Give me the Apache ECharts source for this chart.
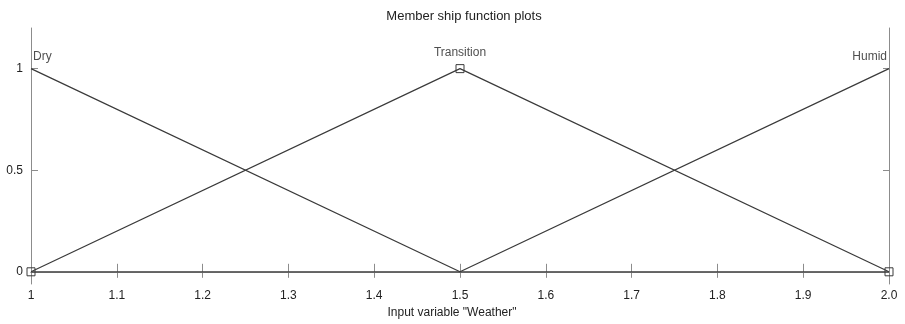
<!DOCTYPE html>
<html><head><meta charset="utf-8">
<script src="https://cdn.jsdelivr.net/npm/echarts@6/dist/echarts.min.js"></script>
<style>html,body{margin:0;padding:0;background:#fff}#c{width:905px;height:324px}</style>
</head><body><div id="c"></div>
<script>
const xTickLabels = ['1','1.1','1.2','1.3','1.4','1.5','1.6','1.7','1.8','1.9','2.0'];
const yTickValues = [0, 0.5, 1];
const xPoints = [1, 1.5, 2];
const dry = [1, 0, 0];
const transition = [0, 1, 0];
const humid = [0, 0, 1];
const mfNames = ['Dry', 'Transition', 'Humid'];
const mfLabelX = [1, 1.5, 2];

const font = 'Liberation Sans, Arial, sans-serif';
const axisGray = '#8c8c8c';
const lineColor = '#3a3a3a';
const textColor = '#222';
const toPairs = ys => xPoints.map((x, i) => [x, ys[i]]);

const chart = echarts.init(document.getElementById('c'));
const xFmt = v => { const i = Math.round((v - 1) * 10); return xTickLabels[i] ?? ''; };
chart.setOption({
  animation: false,
  backgroundColor: '#fff',
  title: { text: 'Member ship function plots', left: 459, top: 5, textAlign: 'center',
    textStyle: { fontFamily: font, fontSize: 13, fontWeight: 'normal', color: textColor } },
  grid: { left: 31, right: 16, top: 28, bottom: 40 },
  xAxis: [
    { type: 'value', min: 1, max: 2, interval: 0.1, position: 'bottom',
      name: 'Input variable "Weather"', nameLocation: 'middle', nameGap: 22,
      nameTextStyle: { fontFamily: font, fontSize: 12, color: textColor, padding: [0, 16, 0, 0] },
      axisLine: { lineStyle: { color: axisGray, width: 1 } },
      axisTick: { inside: true, length: 8, lineStyle: { color: axisGray } },
      axisLabel: { formatter: xFmt, fontFamily: font, fontSize: 12, color: textColor, margin: 6 },
      splitLine: { show: false } },
    { type: 'value', min: 1, max: 2, interval: 0.1, position: 'top',
      axisLine: { lineStyle: { color: axisGray, width: 1 } },
      axisTick: { inside: true, length: 6, lineStyle: { color: axisGray } },
      axisLabel: { show: false }, splitLine: { show: false } }
  ],
  yAxis: [
    { type: 'value', min: -0.06, max: 1.2, position: 'left',
      axisLine: { show: true, lineStyle: { color: axisGray, width: 1 } },
      axisTick: { show: true, inside: true, length: 7, customValues: yTickValues, lineStyle: { color: axisGray } },
      axisLabel: { customValues: yTickValues, formatter: v => String(v), fontFamily: font, fontSize: 12, color: textColor, margin: 8 },
      splitLine: { show: false } },
    { type: 'value', min: -0.06, max: 1.2, position: 'right',
      axisLine: { show: true, lineStyle: { color: axisGray, width: 1 } },
      axisTick: { show: true, inside: true, length: 6, customValues: yTickValues, lineStyle: { color: axisGray } },
      axisLabel: { show: false }, splitLine: { show: false } }
  ],
  series: [
    { type: 'line', name: 'Dry', data: toPairs(dry), showSymbol: false, symbol: 'none',
      lineStyle: { color: lineColor, width: 1.2 }, z: 3 },
    { type: 'line', name: 'Humid', data: toPairs(humid), showSymbol: false, symbol: 'none',
      lineStyle: { color: lineColor, width: 1.2 }, z: 3 },
    { type: 'line', name: 'Transition', data: toPairs(transition), showSymbol: true, symbol: 'rect', symbolSize: 8,
      itemStyle: { color: 'rgba(255,255,255,0)', borderColor: lineColor, borderWidth: 1 },
      lineStyle: { color: lineColor, width: 1.2 }, z: 4 },
    { type: 'scatter', symbolSize: 1, itemStyle: { color: 'rgba(0,0,0,0)' }, silent: true, z: 5,
      data: mfNames.map((n, i) => ({
        name: n, value: [mfLabelX[i], 1],
        label: { show: true, formatter: '{b}', fontFamily: font, fontSize: 12, color: textColor,
          position: 'top', distance: i === 1 ? 9 : 5,
          align: i === 0 ? 'left' : (i === 2 ? 'right' : 'center'),
          offset: i === 0 ? [2, 0] : (i === 2 ? [-2, 0] : [0, 0]) }
      })) }
  ]
});
</script></body></html>
